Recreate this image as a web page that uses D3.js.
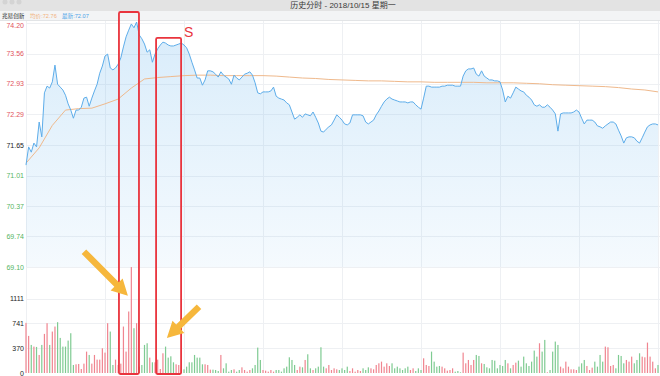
<!DOCTYPE html>
<html>
<head>
<meta charset="utf-8">
<script src="https://cdn.jsdelivr.net/npm/d3@7"></script>
<style>
  body { margin: 0; background: #fff; }
  svg { display: block; font-family: 'Liberation Sans', 'Noto Sans CJK SC', sans-serif; }
</style>
</head>
<body>
<div id="chart"></div>
<script>
// ---- data ----
var titleText = '历史分时 - 2018/10/15 星期一';
var stockName = '兆易创新';
var avgLabel = '均价:72.76';
var lastLabel = '最新:72.07';

var prevClose = 71.65;
var priceTicks = [74.20, 73.56, 72.93, 72.29, 71.65, 71.01, 70.37, 69.74, 69.10];
var volumeTicks = [0, 370, 741, 1111];
var volumeMax = 1481;
var minutes = 240;

// one price per minute, 9:30 .. 15:00
var prices = [
  71.23, 71.61, 71.50, 71.69, 71.61, 72.13, 71.82, 72.74, 72.88, 72.84,
  72.97, 73.32, 72.92, 72.86, 72.80, 72.69, 72.51, 72.38, 72.21, 72.38,
  72.38, 72.44, 72.63, 72.65, 72.46, 72.63, 72.78, 72.92, 73.15, 73.30,
  73.51, 73.55, 73.26, 73.22, 73.26, 73.34, 73.47, 73.70, 73.91, 74.05,
  74.18, 74.10, 74.22, 73.95, 73.87, 73.76, 73.59, 73.64, 73.38, 73.55,
  73.66, 73.74, 73.80, 73.78, 73.74, 73.72, 73.72, 73.74, 73.76, 73.78,
  73.74, 73.68, 73.55, 73.38, 73.22, 73.05, 73.05, 72.90, 73.01, 73.20,
  73.20, 73.18, 73.13, 73.07, 73.18, 73.11, 73.07, 73.03, 72.92, 73.11,
  73.05, 73.01, 73.07, 73.13, 73.15, 73.18, 73.11, 72.95, 72.74, 72.72,
  72.76, 72.76, 72.76, 72.78, 72.86, 72.67, 72.63, 72.61, 72.59, 72.53,
  72.49, 72.34, 72.19, 72.23, 72.28, 72.23, 72.30, 72.28, 72.26, 72.34,
  72.23, 72.11, 71.94, 71.92, 71.98, 72.03, 72.07, 72.17, 72.28, 72.23,
  72.17, 72.09, 72.07, 72.11, 72.28, 72.28, 72.28, 72.28, 72.26, 72.13,
  72.09, 72.13, 72.17, 72.28, 72.36, 72.46, 72.55, 72.61, 72.65, 72.61,
  72.59, 72.57, 72.55, 72.55, 72.55, 72.53, 72.55, 72.55, 72.49, 72.44,
  72.40, 72.63, 72.88, 72.88, 72.86, 72.86, 72.86, 72.86, 72.88, 72.88,
  72.90, 72.90, 72.90, 72.88, 72.88, 72.88, 73.09, 73.20, 73.24, 73.24,
  73.26, 73.13, 73.09, 73.20, 73.09, 73.05, 73.01, 73.01, 72.99, 72.99,
  72.97, 72.80, 72.55, 72.67, 72.63, 72.74, 72.86, 72.82, 72.78, 72.76,
  72.69, 72.65, 72.59, 72.49, 72.46, 72.49, 72.44, 72.44, 72.49, 72.44,
  72.38, 72.30, 71.94, 72.30, 72.32, 72.32, 72.32, 72.32, 72.34, 72.38,
  72.34, 72.21, 72.09, 72.17, 72.17, 72.17, 72.13, 72.05, 72.03, 72.00,
  72.05, 72.09, 72.13, 72.13, 72.09, 71.96, 71.84, 71.69, 71.80, 71.82,
  71.82, 71.80, 71.73, 71.69, 71.80, 71.92, 72.03, 72.07, 72.09, 72.09,
  72.07
];

// average price, one value every 5 minutes
var avgStep = 5;
var avgPrices = [
  71.27, 71.59, 72.06, 72.38, 72.41, 72.42, 72.51, 72.61, 72.84, 73.03,
  73.06, 73.08, 73.10, 73.11, 73.11, 73.10, 73.10, 73.10, 73.10, 73.09,
  73.07, 73.05, 73.04, 73.02, 73.01, 73.00, 72.99, 72.99, 72.98, 72.97,
  72.97, 72.96, 72.96, 72.96, 72.96, 72.95, 72.95, 72.95, 72.94, 72.93,
  72.91, 72.90, 72.89, 72.88, 72.87, 72.85, 72.82, 72.80, 72.76
];

// volume per minute (lots)
var volumes = [
  750, 555, 420, 395, 390, 270, 420, 585, 745, 420,
  620, 695, 760, 525, 395, 395, 485, 595, 120, 130,
  135, 60, 140, 320, 270, 140, 270, 200, 200, 370,
  305, 745, 620, 120, 200, 120, 140, 695, 320, 920,
  1585, 670, 745, 95, 120, 420, 445, 230, 160, 160,
  200, 60, 295, 395, 230, 250, 160, 130, 120, 95,
  55, 95, 160, 160, 270, 230, 230, 130, 130, 120,
  50, 50, 45, 30,
  270, 70, 145, 20, 45, 55, 20, 45, 85, 45, 20, 45, 70, 120,
  380, 195, 45, 35, 20, 45, 20, 45, 45, 20, 70, 95,
  235, 195, 120, 45, 95, 85, 195, 280, 70, 45, 70, 95,
  385, 95, 70, 120, 45, 70, 55, 45, 70, 45, 95, 30,
  70, 20, 45, 30, 70, 45, 85, 70, 55, 120, 145, 170,
  95, 145, 105, 145, 70, 95, 70, 45, 70, 95, 45, 70,
  30, 70, 45, 220, 120, 105, 320, 170, 95, 105,
  95, 70, 35, 45, 70, 20, 30, 10, 305, 145, 195, 120,
  195, 270, 255, 145, 135, 85, 70, 195, 185, 70, 120, 105,
  195, 145, 70, 120, 155, 185, 95, 245, 145, 105, 170, 335,
  245, 445, 320, 495, 10, 45, 320, 470, 420, 95, 70, 170,
  95, 55, 55, 45, 95, 145, 195, 105, 45, 80, 170, 95,
  270, 170, 395, 385, 105, 120, 70, 270, 255, 145, 195, 170,
  245, 145, 195, 295, 245, 235, 455, 245, 170, 70, 120
];

// hand drawn marks on the screenshot (minute index / price / volume)
var boxes = [
  { from: 35.3, to: 42.9, top: 74.43 },
  { from: 49.4, to: 58.9, top: 73.89, label: 'S' }
];
var arrows = [
  { from: [22, 1815], to: [38.7, 1155] },
  { from: [65.7, 990], to: [53.5, 525] }
];

// ---- chart ----
var width = 660, height = 376;
var plotLeft = 26, plotRight = 658;

var x = d3.scaleLinear().domain([0, minutes]).range([plotLeft, plotRight]);
var y = d3.scaleLinear().domain([69.10, 74.20]).range([267, 23]);
var yv = d3.scaleLinear().domain([0, volumeMax]).range([373, 274]);

var svg = d3.select('#chart').append('svg')
  .attr('width', width)
  .attr('height', height);

var defs = svg.append('defs');
var grad = defs.append('linearGradient')
  .attr('id', 'areaFill')
  .attr('gradientUnits', 'userSpaceOnUse')
  .attr('x1', 0).attr('x2', 0)
  .attr('y1', y.range()[1]).attr('y2', y.range()[0]);
grad.append('stop').attr('offset', 0).attr('stop-color', '#6fb8ee').attr('stop-opacity', 0.27);
grad.append('stop').attr('offset', 1).attr('stop-color', '#6fb8ee').attr('stop-opacity', 0.07);

// window title bar + legend row
svg.append('rect').attr('x', 0).attr('y', 0).attr('width', width).attr('height', 11).attr('fill', '#e3e3e3');
[5, 12, 19].forEach(function (cx) {
  svg.append('circle').attr('cx', cx).attr('cy', 2).attr('r', 2.5).attr('fill', '#d4d4d4');
});
svg.append('text')
  .attr('x', 343).attr('y', 8)
  .attr('text-anchor', 'middle')
  .attr('font-size', 8)
  .attr('fill', '#3a3a3a')
  .text(titleText);
svg.append('rect').attr('x', 0).attr('y', 11).attr('width', width).attr('height', 9).attr('fill', '#f3f4f5');
svg.append('line').attr('x1', 0).attr('x2', width).attr('y1', 20.5).attr('y2', 20.5).attr('stroke', '#e2e4e6');

var legend = svg.append('g').attr('font-size', 5.6).attr('transform', 'translate(2,17.8)');
legend.append('text').attr('x', 0).attr('fill', '#222').text(stockName);
legend.append('text').attr('x', 28).attr('fill', '#f2b27c').text(avgLabel);
legend.append('text').attr('x', 60).attr('fill', '#4aa3e8').text(lastLabel);

// grid
var grid = svg.append('g').attr('stroke', '#eef0f3').attr('stroke-width', 1);
grid.selectAll('line.h')
  .data(priceTicks)
  .enter().append('line')
  .attr('x1', plotLeft).attr('x2', width)
  .attr('y1', function (d) { return Math.round(y(d)) + 0.5; })
  .attr('y2', function (d) { return Math.round(y(d)) + 0.5; });
grid.selectAll('line.v')
  .data(volumeTicks.slice(1))
  .enter().append('line')
  .attr('x1', plotLeft).attr('x2', width)
  .attr('y1', function (d) { return Math.round(yv(d)) + 0.5; })
  .attr('y2', function (d) { return Math.round(yv(d)) + 0.5; });
grid.selectAll('line.t')
  .data(d3.range(0, minutes + 1, 30))
  .enter().append('line')
  .attr('x1', function (d) { return Math.round(x(d)) + 0.5; })
  .attr('x2', function (d) { return Math.round(x(d)) + 0.5; })
  .attr('y1', 21).attr('y2', 373);

// price axis labels
svg.append('g')
  .attr('font-size', 7)
  .attr('text-anchor', 'end')
  .selectAll('text')
  .data(priceTicks)
  .enter().append('text')
  .attr('x', 24)
  .attr('y', function (d, i) { return y(d) + (i == 0 ? 5 : 2.5); })
  .attr('fill', function (d) {
    if (d > prevClose) return '#e2545c';
    if (d < prevClose) return '#55b55f';
    return '#222';
  })
  .text(function (d) { return d.toFixed(2); });

// volume axis labels
svg.append('g')
  .attr('font-size', 7)
  .attr('text-anchor', 'end')
  .attr('fill', '#222')
  .selectAll('text')
  .data(volumeTicks)
  .enter().append('text')
  .attr('x', 24)
  .attr('y', function (d) { return yv(d) + 2.5; })
  .text(function (d) { return d; });

// price area + line
var area = d3.area()
  .x(function (d, i) { return x(i); })
  .y0(y.range()[0])
  .y1(function (d) { return y(d); });
var line = d3.line()
  .x(function (d, i) { return x(i); })
  .y(function (d) { return y(d); });

svg.append('path').datum(prices).attr('d', area).attr('fill', 'url(#areaFill)');
svg.append('path').datum(avgPrices)
  .attr('d', d3.line()
    .x(function (d, i) { return x(i * avgStep); })
    .y(function (d) { return y(d); }))
  .attr('fill', 'none')
  .attr('stroke', '#efb98c')
  .attr('stroke-width', 1);
svg.append('path').datum(prices)
  .attr('d', line)
  .attr('fill', 'none')
  .attr('stroke', '#5dadea')
  .attr('stroke-width', 1);

// volume bars, coloured by the minute's move
var lastColor = '#f08590';
var barColors = volumes.map(function (v, i) {
  if (i == 0) return lastColor;
  if (prices[i] > prices[i - 1]) lastColor = '#f08590';
  else if (prices[i] < prices[i - 1]) lastColor = '#7fcb92';
  return lastColor;
});
svg.append('g')
  .selectAll('rect')
  .data(volumes)
  .enter().append('rect')
  .attr('x', function (d, i) { return x(i) - 0.6; })
  .attr('width', 1.2)
  .attr('y', function (d) { return yv(d); })
  .attr('height', function (d) { return yv(0) - yv(d); })
  .attr('fill', function (d, i) { return barColors[i]; });

// red boxes
var marks = svg.append('g');
boxes.forEach(function (b) {
  var top = y(b.top);
  marks.append('rect')
    .attr('x', x(b.from)).attr('y', top)
    .attr('width', x(b.to) - x(b.from))
    .attr('height', yv(0) + 1 - top)
    .attr('rx', 1.5)
    .attr('fill', 'none')
    .attr('stroke', '#e9343d')
    .attr('stroke-width', 1.8);
  if (b.label) {
    marks.append('text')
      .attr('x', x(b.to) + 3).attr('y', top - 1)
      .attr('font-size', 14)
      .attr('fill', '#e9343d')
      .text(b.label);
  }
});

// yellow arrows
arrows.forEach(function (a) {
  var x0 = x(a.from[0]), y0 = yv(a.from[1]);
  var x1 = x(a.to[0]), y1 = yv(a.to[1]);
  var ang = Math.atan2(y1 - y0, x1 - x0);
  var len = Math.hypot(x1 - x0, y1 - y0);
  var head = 16, hw = 8.5, sw = 3.2;
  var pts = [
    [0, -sw], [len - head, -sw], [len - head, -hw], [len, 0],
    [len - head, hw], [len - head, sw], [0, sw]
  ].map(function (p) {
    return [
      x0 + p[0] * Math.cos(ang) - p[1] * Math.sin(ang),
      y0 + p[0] * Math.sin(ang) + p[1] * Math.cos(ang)
    ];
  });
  marks.append('polygon')
    .attr('points', pts.map(function (p) { return p.join(','); }).join(' '))
    .attr('fill', '#f6b73c');
});
</script>
</body>
</html>
